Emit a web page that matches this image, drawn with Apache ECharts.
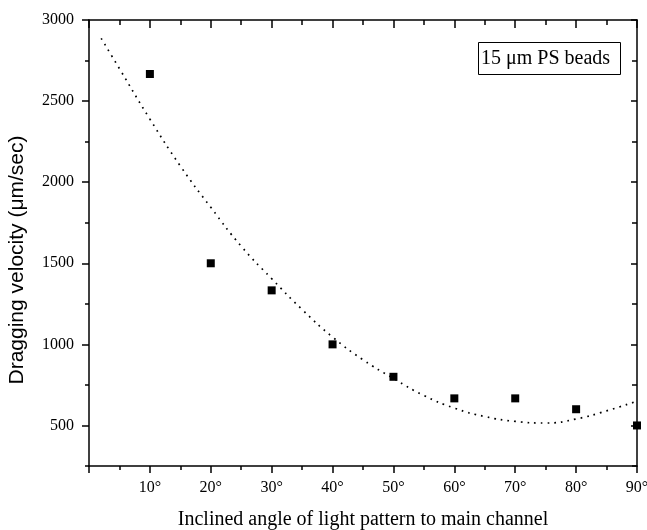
<!DOCTYPE html>
<html>
<head>
<meta charset="utf-8">
<script src="https://cdn.jsdelivr.net/npm/echarts@6/dist/echarts.min.js"></script>
<style>
html,body{margin:0;padding:0;background:#fff;}
#chart{width:647px;height:530px;}
</style>
</head>
<body>
<div id="chart"></div>
<script>
// Measured data points
const angles = [10, 20, 30, 40, 50, 60, 70, 80, 90];
const velocities = [2667, 1500, 1333, 1000, 800, 667, 667, 600, 500];

// Fitted (dotted) curve
const fitAngles = [2, 5, 10, 15, 20, 25, 30, 35, 40, 45, 50, 55, 60, 65, 70, 75, 80, 85, 90];
const fitVelocities = [2887, 2700, 2389, 2100, 1845, 1605, 1405, 1215, 1045, 905, 790, 685, 607, 555, 525, 515, 540, 590, 650];

// Axis ticks
const yMajorTicks = [500, 1000, 1500, 2000, 2500, 3000];
const yMinorTicks = [250, 750, 1250, 1750, 2250, 2750];
const boxLabel = '15 μm PS beads';
const xTitle = 'Inclined angle of light pattern to main channel';
const yTitle = 'Dragging velocity (μm/sec)';

const serif = '"Liberation Serif", "Times New Roman", serif';
const sans = '"Liberation Sans", Arial, sans-serif';

const chart = echarts.init(document.getElementById('chart'));

const lineCommon = { show: true, lineStyle: { color: '#000', width: 1.5 } };

const option = {
  animation: false,
  backgroundColor: '#fff',
  grid: { left: 89, right: 10, top: 20, bottom: 64, containLabel: false, outerBoundsMode: 'none' },
  title: {
    text: boxLabel,
    left: 478, top: 42,
    borderColor: '#000', borderWidth: 1,
    padding: [7, 11, 6, 3],
    textStyle: { fontFamily: serif, fontSize: 20, fontWeight: 'normal', color: '#000' }
  },
  xAxis: [
    {
      type: 'value', position: 'bottom', min: 0, max: 90, interval: 10,
      axisLine: lineCommon,
      axisTick: { show: true, length: 7, lineStyle: { color: '#000', width: 1.5 } },
      minorTick: { show: true, splitNumber: 2, length: 4, lineStyle: { color: '#000', width: 1.5 } },
      splitLine: { show: false },
      axisLabel: {
        margin: 14, fontFamily: serif, fontSize: 16, color: '#000',
        formatter: v => v === 0 ? '' : v + '°'
      },
      name: xTitle, nameLocation: 'middle', nameGap: 44,
      nameTextStyle: { fontFamily: serif, fontSize: 20, color: '#000' }
    },
    {
      type: 'value', position: 'top', min: 0, max: 90, interval: 10,
      axisLine: lineCommon,
      axisTick: { show: true, inside: true, length: 8, lineStyle: { color: '#000', width: 1.5 } },
      minorTick: { show: true, splitNumber: 2, length: 5, lineStyle: { color: '#000', width: 1.5 } },
      splitLine: { show: false },
      axisLabel: { show: false }
    }
  ],
  yAxis: [
    {
      type: 'value', position: 'left', min: 250, max: 3000,
      axisLine: lineCommon,
      axisTick: { show: true, length: 7, customValues: yMajorTicks, lineStyle: { color: '#000', width: 1.5 } },
      splitLine: { show: false },
      axisLabel: {
        customValues: yMajorTicks, margin: 15,
        fontFamily: serif, fontSize: 16, color: '#000',
        formatter: v => String(v)
      },
      name: yTitle, nameLocation: 'middle', nameGap: 61, nameRotate: 90,
      nameTextStyle: { fontFamily: sans, fontSize: 21, color: '#000', padding: [0, 34, 0, 0] }
    },
    {
      type: 'value', position: 'left', min: 250, max: 3000,
      axisLine: { show: false },
      axisTick: { show: true, length: 4, customValues: yMinorTicks, lineStyle: { color: '#000', width: 1.5 } },
      splitLine: { show: false },
      axisLabel: { show: false }
    },
    {
      type: 'value', position: 'right', min: 250, max: 3000,
      axisLine: lineCommon,
      axisTick: { show: true, inside: true, length: 6, customValues: yMajorTicks, lineStyle: { color: '#000', width: 1.5 } },
      splitLine: { show: false },
      axisLabel: { show: false }
    },
    {
      type: 'value', position: 'right', min: 250, max: 3000,
      axisLine: { show: false },
      axisTick: { show: true, inside: true, length: 5, customValues: yMinorTicks, lineStyle: { color: '#000', width: 1.5 } },
      splitLine: { show: false },
      axisLabel: { show: false }
    }
  ],
  series: [
    {
      type: 'line', xAxisIndex: 0, yAxisIndex: 0,
      data: fitAngles.map((a, i) => [a, fitVelocities[i]]),
      smooth: true, symbol: 'none',
      lineStyle: { color: '#000', width: 1.7, type: [1.7, 5] },
      z: 2
    },
    {
      type: 'scatter', xAxisIndex: 0, yAxisIndex: 0,
      data: angles.map((a, i) => [a, velocities[i]]),
      symbol: 'rect', symbolSize: 8,
      itemStyle: { color: '#000', opacity: 1 },
      z: 3
    }
  ]
};
chart.setOption(option);
</script>
</body>
</html>
